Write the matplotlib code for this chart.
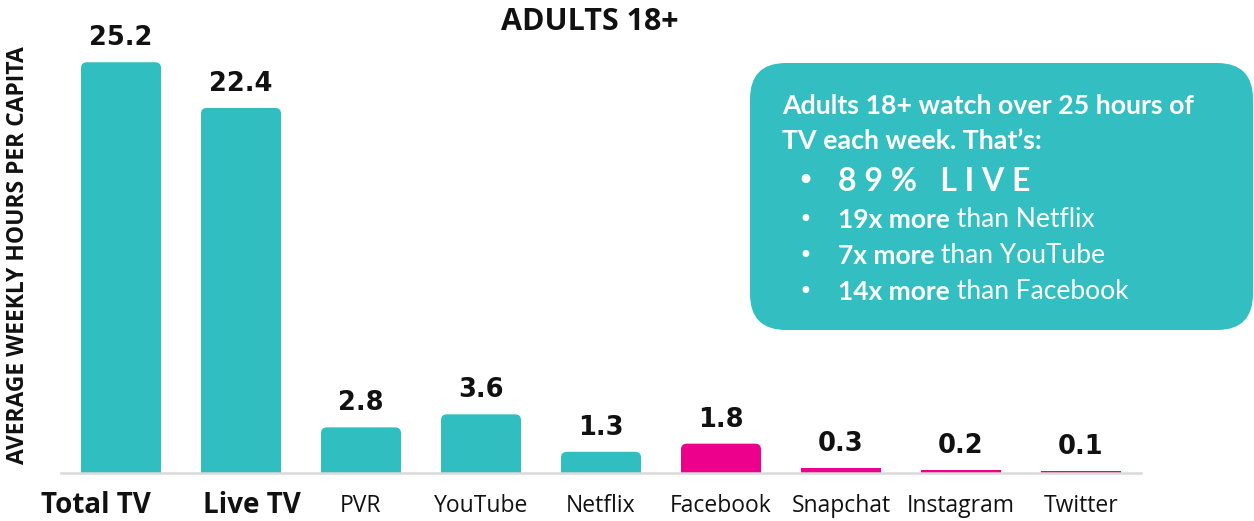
import matplotlib
matplotlib.use("Agg")
import matplotlib.pyplot as plt
from matplotlib.patches import FancyBboxPatch
from matplotlib.text import Annotation
from matplotlib.transforms import IdentityTransform, ScaledTranslation


# ------------------------------------------------------------
# Adults 18+: average weekly hours per capita by platform
# ------------------------------------------------------------

CATEGORIES = ["Total TV", "Live TV", "PVR", "YouTube", "Netflix",
              "Facebook", "Snapchat", "Instagram", "Twitter"]
HOURS = [25.2, 22.4, 2.8, 3.6, 1.3, 1.8, 0.3, 0.2, 0.1]
LABELS = ["25.2", "22.4", "2.8", "3.6", "1.3", "1.8", "0.3", "0.2", "0.1"]
BOLD_TICKS = ["Total TV", "Live TV"]

TITLE = "ADULTS 18+"
Y_LABEL = "AVERAGE WEEKLY HOURS PER CAPITA"

BOX_HEADER = ["Adults 18+ watch over 25 hours of", "TV each week. That\u2019s:"]
BOX_BIG_BULLET = "8 9 %   L I V E"
BOX_BULLETS_BOLD = ["19x more", "7x more", "14x more"]
BOX_BULLETS_REST = [" than Netflix", " than YouTube", " than Facebook"]

TEAL = "#31BEC0"
PINK = "#EC008C"
COLORS = [TEAL] * 5 + [PINK] * 4

W, H = 1254, 521
DPI = 100


def fx(x):
    return x / W


def fy(y):
    return 1 - y / H


def main() -> None:
    fig = plt.figure(figsize=(W / DPI, H / DPI), dpi=DPI)

    # axes: x from px 61 to 1141, baseline at px 473, top at px 20
    ax = fig.add_axes([fx(61), fy(473), (1141 - 61) / W, (473 - 20) / H])
    ax.set_xlim(-0.5, 8.5)
    ax.set_ylim(0, 453 / 16.3)

    for spine in ["top", "right", "left"]:
        ax.spines[spine].set_visible(False)
    ax.spines["bottom"].set_color("#D9D9D9")
    ax.spines["bottom"].set_linewidth(1.8)
    ax.set_yticks([])
    ax.tick_params(axis="x", length=0, pad=13)

    bar_w = 80 / 120
    for i, (val, col) in enumerate(zip(HOURS, COLORS)):
        if val >= 1:
            # rounded top, bottom hidden below the baseline
            patch = FancyBboxPatch(
                (i - bar_w / 2, -2), bar_w, val + 2,
                boxstyle="round,pad=0,rounding_size=0.05",
                mutation_aspect=0.35 / 0.05,
                facecolor=col, edgecolor="none", clip_on=True,
            )
            ax.add_patch(patch)
        else:
            ax.bar(i, val, width=bar_w, color=col, linewidth=0)

        ax.annotate(
            LABELS[i], xy=(i, val), xytext=(0, 8), textcoords="offset points",
            ha="center", va="bottom", fontsize=18.5, fontweight="bold",
            family="DejaVu Sans", color="#111111",
        )

    ax.set_xticks(range(len(CATEGORIES)))
    ax.set_xticklabels(CATEGORIES)
    shifts = {"Total TV": -25, "Live TV": 11}
    for lbl in ax.get_xticklabels():
        name = lbl.get_text()
        lbl.set_family("Open Sans")
        lbl.set_color("#111111")
        if name in BOLD_TICKS:
            lbl.set_fontweight("bold")
            lbl.set_fontsize(20)
            lbl.set_transform(lbl.get_transform() + ScaledTranslation(
                shifts[name] / DPI, 0, fig.dpi_scale_trans))
        else:
            lbl.set_fontsize(16.5)
            lbl.set_transform(lbl.get_transform() + ScaledTranslation(
                0, -3 / DPI, fig.dpi_scale_trans))

    # title and y label
    fig.text(fx(590), fy(22), TITLE, ha="center", va="center",
             fontsize=22, fontweight="bold", family="Open Sans", color="#111111")
    fig.text(fx(18), fy(255), Y_LABEL, rotation=90, ha="center", va="center",
             fontsize=16.5, fontweight="bold", family="Open Sans", color="#111111")

    # callout box (pixel coordinates)
    box = FancyBboxPatch(
        (750, H - 330), 503, 267,
        boxstyle="round,pad=0,rounding_size=36",
        facecolor="#33BFC1", edgecolor="none", transform=IdentityTransform(),
    )
    fig.add_artist(box)

    fig.text(fx(782), fy(106), BOX_HEADER[0], ha="left", va="center",
             fontsize=19.3, fontweight="bold", family="Lato", color="white")
    fig.text(fx(782), fy(141), BOX_HEADER[1], ha="left", va="center",
             fontsize=19.3, fontweight="bold", family="Lato", color="white")

    fig.text(fx(805), fy(182), "\u2022", ha="center", va="center",
             fontsize=22, color="white", family="DejaVu Sans")
    fig.text(fx(838), fy(182), BOX_BIG_BULLET, ha="left", va="center",
             fontsize=23, fontweight="bold", family="Lato", color="white")

    for k, (b, r) in enumerate(zip(BOX_BULLETS_BOLD, BOX_BULLETS_REST)):
        y = 220 + k * 36
        fig.text(fx(805), fy(y), "\u2022", ha="center", va="center",
                 fontsize=17, color="white", family="DejaVu Sans")
        t = fig.text(fx(838), fy(y), b, ha="left", va="center",
                     fontsize=19, fontweight="bold", family="Lato", color="white")
        rest = Annotation(r, xy=(1, 0), xycoords=t, ha="left", va="bottom",
                          fontsize=19, family="Lato", color="white")
        rest.set_zorder(5)
        fig.add_artist(rest)

    fig.savefig("out.png", dpi=DPI)
    plt.close(fig)


if __name__ == "__main__":
    main()
